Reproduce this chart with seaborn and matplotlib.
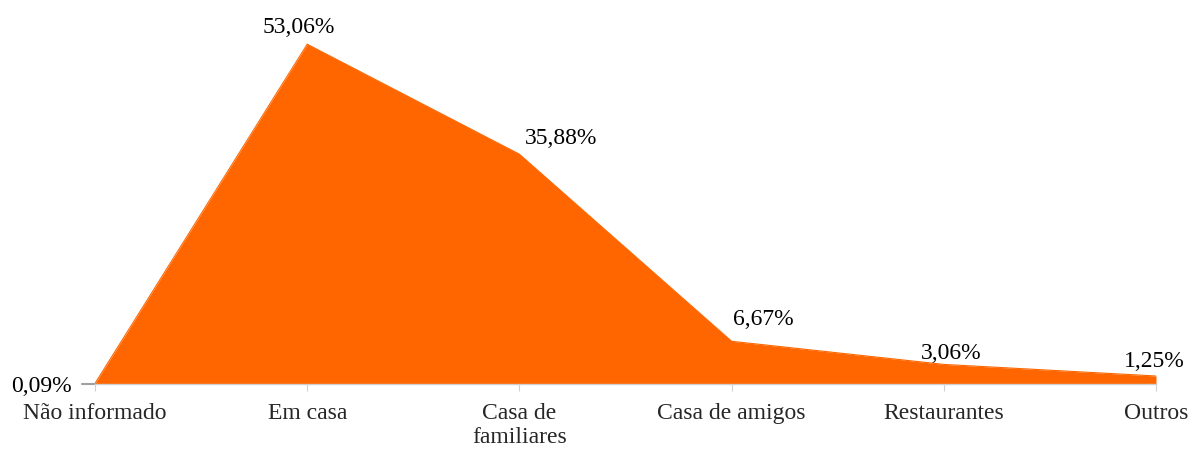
import matplotlib
matplotlib.use("Agg")
import matplotlib.pyplot as plt
import seaborn as sns
import pandas as pd

sns.set_style("white")
plt.rcParams["font.family"] = ["Liberation Serif", "DejaVu Serif"]

categories = ["Não informado", "Em casa", "Casa de\nfamiliares", "Casa de amigos",
              "Restaurantes", "Outros"]
values = [0.09, 53.06, 35.88, 6.67, 3.06, 1.25]
value_labels = ["0,09%", "53,06%", "35,88%", "6,67%", "3,06%", "1,25%"]

# label placement: baseline offset (points) from each vertex
label_offsets = [(-16.5, -6.5), (-6, 8), (30, 7), (23, 12), (5, 4), (-1, 6.5)]
label_ha = ["right", "center", "center", "center", "center", "center"]

orange = "#FF6600"
fs = 17

df = pd.DataFrame({"pos": range(len(categories)), "value": values})

fig = plt.figure(figsize=(11.9, 4.51), dpi=100)
ax = fig.add_axes([95 / 1190, 1 - 384 / 451, (1156 - 95) / 1190, 0.781])

sns.lineplot(data=df, x="pos", y="value", color=orange, linewidth=0.8, ax=ax)
ax.fill_between(df["pos"], df["value"], 0, color=orange, linewidth=0)

ax.set_xlim(0, len(categories) - 1)
ax.set_ylim(0, 55)

for i, (v, lab) in enumerate(zip(values, value_labels)):
    ax.annotate(lab, (i, v), xytext=label_offsets[i], textcoords="offset points",
                ha=label_ha[i], va="baseline", fontsize=fs, color="black")

for s in ["top", "right", "left"]:
    ax.spines[s].set_visible(False)
ax.spines["bottom"].set_color("#d0d0d0")
ax.spines["bottom"].set_linewidth(1.0)

ax.set_xticks(range(len(categories)))
ax.set_xticklabels(categories, fontsize=fs, linespacing=1.15)
ax.tick_params(axis="x", length=5, color="#d0d0d0", pad=9, bottom=True)
ax.set_yticks([])
ax.set_xlabel("")
ax.set_ylabel("")

# short tick at the start of the baseline
ax.plot([-0.06, 0], [0, 0], color="#a0a0a0", linewidth=1.5, clip_on=False)

fig.savefig("out.png", dpi=100)
